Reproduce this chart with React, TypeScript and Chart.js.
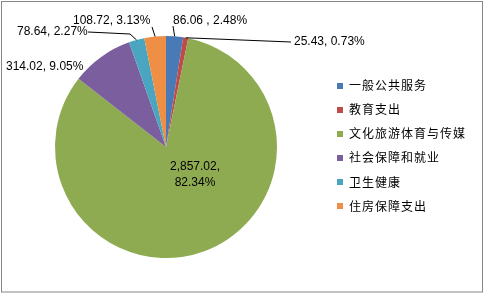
import React, { useEffect, useRef } from "react";
import { Chart, registerables } from "chart.js";

Chart.register(...registerables);

const categories = ["一般公共服务", "教育支出", "文化旅游体育与传媒", "社会保障和就业", "卫生健康", "住房保障支出"];
const values = [86.06, 25.43, 2857.02, 314.02, 78.64, 108.72];
const valueLabels = ["86.06 , 2.48%", "25.43, 0.73%", "2,857.02,|82.34%", "314.02, 9.05%", "78.64, 2.27%", "108.72, 3.13%"];
const colors = ["#4A7AB6", "#BE4B48", "#8FAB52", "#7B5E9E", "#4AA5C0", "#EE8F45"];

// label layout (annotation positions): text anchor and leader-line bend points
const labelLayout: { x: number; y: number; align: CanvasTextAlign; line: number[][] | null }[] = [
  { x: 173, y: 21, align: "left", line: [[173, 26]] },
  { x: 294, y: 42, align: "left", line: [[291, 42]] },
  { x: 195, y: 167, align: "center", line: null },
  { x: 6, y: 67, align: "left", line: null },
  { x: 17, y: 32, align: "left", line: [[130, 34], [88, 32]] },
  { x: 73, y: 21, align: "left", line: [[152, 27]] },
];

const labelFont = '12px "Liberation Sans", Arial, sans-serif';
const legendFont = '12px "Noto Sans CJK SC", sans-serif';

const overlayPlugin = {
  id: "overlay",
  beforeDraw(chart: any) {
    const ctx = chart.ctx;
    ctx.save();
    ctx.fillStyle = "#ffffff";
    ctx.fillRect(0, 0, chart.width, chart.height);
    ctx.restore();
  },
  afterDraw(chart: any) {
    const ctx: CanvasRenderingContext2D = chart.ctx;
    const meta = chart.getDatasetMeta(0);
    ctx.save();
    // border
    ctx.strokeStyle = "#868686";
    ctx.lineWidth = 1;
    ctx.strokeRect(1.5, 1.5, 481, 290.5);

    // leader lines and labels
    meta.data.forEach((arc: any, i: number) => {
      const p = arc.getProps(["x", "y", "startAngle", "endAngle", "outerRadius"], true);
      const mid = (p.startAngle + p.endAngle) / 2;
      const ex = p.x + Math.cos(mid) * p.outerRadius;
      const ey = p.y + Math.sin(mid) * p.outerRadius;
      const lay = labelLayout[i];
      if (lay.line) {
        ctx.strokeStyle = "#000000";
        ctx.lineWidth = 1;
        ctx.beginPath();
        ctx.moveTo(ex, ey);
        lay.line.forEach((pt) => ctx.lineTo(pt[0], pt[1]));
        ctx.stroke();
      }
      ctx.fillStyle = "#000000";
      ctx.font = labelFont;
      ctx.textBaseline = "middle";
      ctx.textAlign = lay.align;
      const lines = valueLabels[i].split("|");
      lines.forEach((t, k) => ctx.fillText(t, lay.x, lay.y + k * 16));
    });

    // legend
    const lx = 337;
    const ly0 = 85.7;
    const step = 24.06;
    categories.forEach((c, i) => {
      const y = ly0 + i * step;
      ctx.fillStyle = colors[i];
      ctx.fillRect(lx, Math.round(y - 3), 6, 6);
      ctx.fillStyle = "#000000";
      ctx.font = legendFont;
      (ctx as any).letterSpacing = "1px";
      ctx.textAlign = "left";
      ctx.textBaseline = "middle";
      ctx.fillText(c, 349, y);
      (ctx as any).letterSpacing = "0px";
    });
    ctx.restore();
  },
};

export default function App() {
  const ref = useRef<HTMLCanvasElement>(null);
  useEffect(() => {
    document.body.style.margin = "0";
    if (!ref.current) return;
    const chart = new Chart(ref.current, {
      type: "pie",
      data: {
        labels: categories,
        datasets: [
          {
            data: values,
            backgroundColor: colors,
            borderWidth: 0,
          },
        ],
      },
      options: {
        responsive: false,
        animation: false,
        layout: { padding: { top: 36, bottom: 37, left: 55, right: 207 } },
        plugins: {
          legend: { display: false },
          tooltip: { enabled: false },
        },
      },
      plugins: [overlayPlugin],
    });
    return () => chart.destroy();
  }, []);
  return <canvas ref={ref} width={484} height={295} style={{ display: "block" }} />;
}
